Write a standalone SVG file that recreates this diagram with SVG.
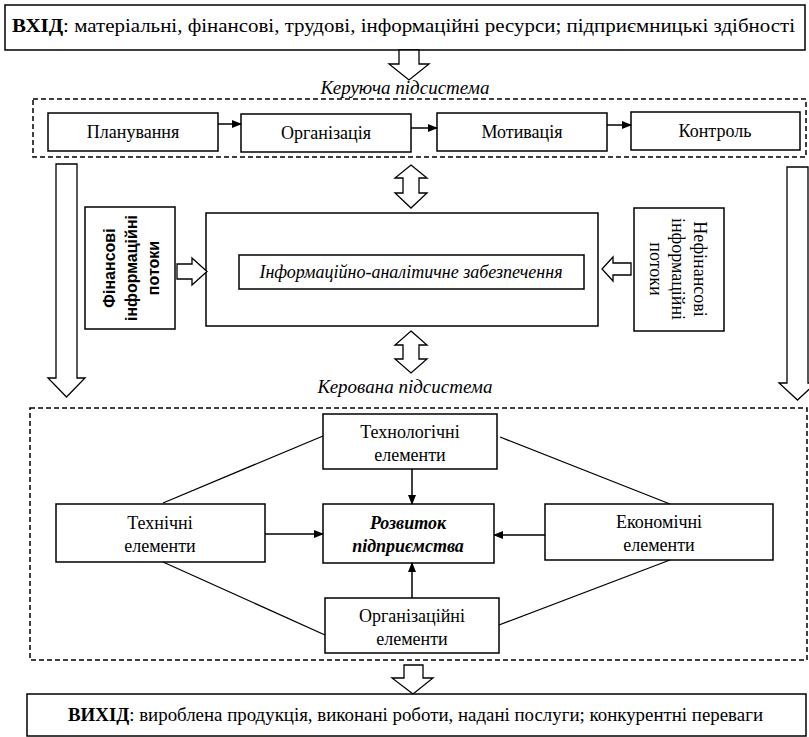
<svg xmlns="http://www.w3.org/2000/svg" width="809" height="737" viewBox="0 0 809 737">
<defs>
<marker id="ah" markerWidth="10" markerHeight="8" refX="9" refY="4" orient="auto" markerUnits="userSpaceOnUse">
<path d="M0,0 L10,4 L0,8 Z" fill="#000"/>
</marker>
<style>
.box{fill:#fff;stroke:#000;stroke-width:1.5}
.dash{fill:none;stroke:#000;stroke-width:1.5;stroke-dasharray:5 3}
.hollow{fill:#fff;stroke:#000;stroke-width:1.3;stroke-linejoin:miter}
.ln{fill:none;stroke:#000;stroke-width:1.3}
.arr{fill:none;stroke:#000;stroke-width:1.5;marker-end:url(#ah)}
.t{font-family:"Liberation Serif","Times New Roman","DejaVu Serif",serif;font-size:18px;fill:#000;text-anchor:middle}
.big{font-family:"Liberation Serif","Times New Roman","DejaVu Serif",serif;font-size:19px;fill:#000}
.it{font-style:italic}
.sub{font-size:19px}
.bs{font-family:"Liberation Sans",Arial,sans-serif;font-weight:bold;font-size:16px;fill:#000;text-anchor:middle}
</style>
</defs>
<rect width="809" height="737" fill="#fff"/>

<g id="input">
<rect class="box" x="5" y="5" width="800" height="45"/>
<text class="big" x="12" y="32" textLength="783" lengthAdjust="spacingAndGlyphs"><tspan font-weight="bold">ВХІД</tspan>: матеріальні, фінансові, трудові, інформаційні ресурси; підприємницькі здібності</text>
</g>

<g id="controlling-subsystem">
<text class="t it sub" x="405" y="94">Керуюча підсистема</text>
<rect class="dash" x="33" y="99" width="773" height="58"/>
</g>

<g id="planning"><rect class="box" x="48" y="113" width="170" height="38"/><text class="t" x="133" y="138">Планування</text></g>
<g id="organization"><rect class="box" x="241" y="114" width="170" height="38"/><text class="t" x="326" y="139">Організація</text></g>
<g id="motivation"><rect class="box" x="437" y="113" width="170" height="38"/><text class="t" x="522" y="138">Мотивація</text></g>
<g id="control"><rect class="box" x="631" y="112" width="169" height="38"/><text class="t" x="715" y="137">Контроль</text></g>

<g id="fin-flows">
<rect class="box" x="85" y="207" width="90" height="122"/>
<g transform="translate(130,268) rotate(-90)">
<text class="bs" x="0" y="-15">Фінансові</text>
<text class="bs" x="0" y="7">інформаційні</text>
<text class="bs" x="0" y="29">потоки</text>
</g>
</g>

<g id="info-support">
<rect class="box" x="206" y="213" width="392" height="113"/>
<rect class="box" x="239" y="255" width="345" height="34"/>
<text class="t it" x="411" y="278" font-size="18.5">Інформаційно-аналітичне забезпечення</text>
</g>

<g id="nonfin-flows">
<rect class="box" x="634" y="208" width="90" height="123"/>
<g transform="translate(679,269) rotate(90)">
<text class="t" x="0" y="-15">Нефінансові</text>
<text class="t" x="0" y="7">інформаційні</text>
<text class="t" x="0" y="29">потоки</text>
</g>
</g>

<g id="managed-subsystem">
<text class="t it sub" x="405" y="393">Керована підсистема</text>
<rect class="dash" x="30" y="408" width="777" height="252"/>
</g>

<g id="tech-elements"><rect class="box" x="323" y="414" width="174" height="55"/><text class="t" x="410" y="438">Технологічні</text><text class="t" x="410" y="461">елементи</text></g>
<g id="technical"><rect class="box" x="56" y="504" width="209" height="58"/><text class="t" x="160" y="529">Технічні</text><text class="t" x="160" y="552">елементи</text></g>
<g id="development"><rect class="box" x="323" y="504" width="171" height="59"/><text class="t it" font-weight="bold" x="408" y="529">Розвиток</text><text class="t it" font-weight="bold" x="408" y="552">підприємства</text></g>
<g id="economic"><rect class="box" x="545" y="504" width="228" height="56"/><text class="t" x="659" y="528">Економічні</text><text class="t" x="659" y="551">елементи</text></g>
<g id="org-elements"><rect class="box" x="325" y="598" width="174" height="55"/><text class="t" x="412" y="622">Організаційні</text><text class="t" x="412" y="645">елементи</text></g>

<g id="output">
<rect class="box" x="27" y="694" width="779" height="42"/>
<text class="big" x="68" y="721" textLength="695" lengthAdjust="spacingAndGlyphs"><tspan font-weight="bold">ВИХІД</tspan>: вироблена продукція, виконані роботи, надані послуги; конкурентні переваги</text>
</g>

<g id="connectors">
<line class="arr" x1="218" y1="124" x2="241" y2="124"/>
<line class="arr" x1="411" y1="128" x2="437" y2="128"/>
<line class="arr" x1="607" y1="125" x2="631" y2="125"/>
<line class="arr" x1="412" y1="469" x2="412" y2="504"/>
<line class="arr" x1="265" y1="534" x2="323" y2="534"/>
<line class="arr" x1="545" y1="535" x2="494" y2="535"/>
<line class="arr" x1="412" y1="598" x2="412" y2="563"/>
<line class="ln" x1="163" y1="503" x2="323" y2="436"/>
<line class="ln" x1="500" y1="437" x2="670" y2="504"/>
<line class="ln" x1="163" y1="562" x2="325" y2="635"/>
<line class="ln" x1="670" y1="560" x2="499" y2="625"/>
<path class="hollow" d="M399,50 L419,50 L419,64 L429,64 L409,80 L389,64 L399,64 Z"/>
<path class="hollow" d="M56,164 L77,164 L77,378 L85,378 L66.5,397 L48,378 L56,378 Z"/>
<path class="hollow" d="M787,167 L808,167 L808,383 L816,383 L797.5,400 L779,383 L787,383 Z"/>
<path class="hollow" d="M177,264 L192,264 L192,258 L207,271.5 L192,285 L192,279 L177,279 Z"/>
<path class="hollow" d="M631,263 L613,263 L613,257 L602,269 L613,281 L613,275 L631,275 Z"/>
<path class="hollow" d="M411,165 L427,178 L419,178 L419,193 L427,193 L411,208 L395,193 L403,193 L403,178 L395,178 Z"/>
<path class="hollow" d="M411,331 L427,345 L419,345 L419,359 L427,359 L411,373 L395,359 L403,359 L403,345 L395,345 Z"/>
<path class="hollow" d="M404,665 L423,665 L423,678 L433,678 L413,694 L392,678 L404,678 Z"/>
</g>
</svg>
